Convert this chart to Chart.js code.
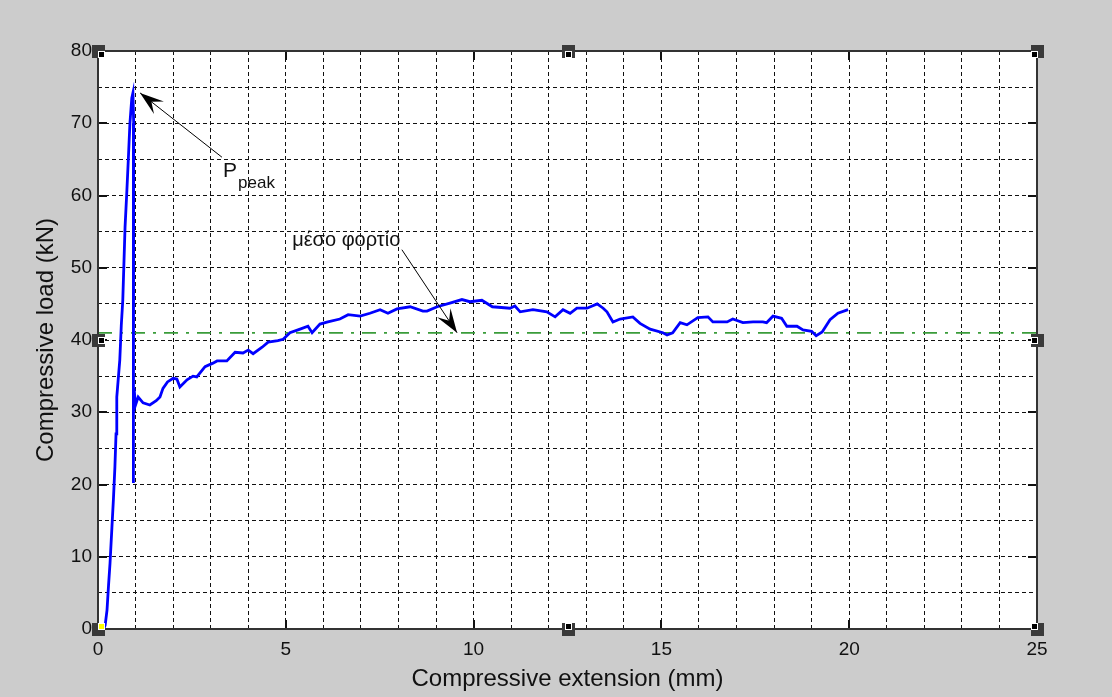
<!DOCTYPE html>
<html>
<head>
<meta charset="utf-8">
<script src="https://cdn.jsdelivr.net/npm/chart.js@4/dist/chart.umd.min.js"></script>
<style>
html,body{margin:0;padding:0;background:#cccccc;}
canvas{display:block;}
</style>
</head>
<body>
<canvas id="c" width="1112" height="697"></canvas>
<script>
// ---- data ----
const extension = [0.15,0.19,0.24,0.28,0.32,0.37,0.41,0.45,0.48,0.50,0.58,0.62,0.66,0.72,0.77,0.81,0.85,0.90,0.93,
  0.95,0.94,0.94,0.94,0.95,0.96,1.00,1.07,1.20,1.38,1.55,1.65,1.73,1.85,2.00,2.10,2.18,2.37,2.53,2.63,2.85,3.06,3.17,3.43,3.65,3.86,4.00,4.13,4.37,4.53,4.79,4.93,
  5.11,5.38,5.59,5.70,5.91,6.12,6.44,6.66,6.98,7.24,7.51,7.72,7.96,8.31,8.65,8.76,9.03,9.37,9.69,9.90,
  10.22,10.50,10.97,11.10,11.24,11.58,11.95,12.17,12.38,12.57,12.75,13.02,13.29,13.45,13.55,13.71,13.90,14.24,14.43,14.70,15.04,15.15,15.30,15.50,15.68,15.97,
  16.24,16.37,16.75,16.90,17.17,17.44,17.70,17.80,17.97,18.20,18.34,18.61,18.77,19.00,19.12,19.28,19.49,19.70,19.97];
const load = [0,0.5,2.6,6,9.1,14,17.9,22.4,27,32.1,37.2,42,45.5,55.6,60.8,65.3,70.0,73.5,74.2,
  70,50,30,20.2,30,33.3,31.0,32.1,31.3,31.0,31.6,32.1,33.3,34.2,34.7,34.6,33.5,34.5,35.0,34.9,36.3,36.8,37.1,37.1,38.3,38.2,38.6,38.1,39.0,39.7,39.9,40.1,
  41.0,41.5,41.9,41.0,42.2,42.5,42.9,43.5,43.3,43.7,44.2,43.7,44.3,44.6,44.0,44.0,44.6,45.1,45.6,45.3,
  45.5,44.6,44.4,44.7,43.9,44.2,43.9,43.2,44.2,43.7,44.4,44.4,45.0,44.4,43.9,42.5,42.9,43.2,42.3,41.5,41.0,40.7,41.0,42.4,42.1,43.1,
  43.2,42.5,42.5,42.9,42.4,42.5,42.5,42.4,43.3,43.0,41.9,41.9,41.4,41.2,40.6,41.1,42.8,43.7,44.2];
const meanLoad = 41;
const meanRange = [0, 25];
const xTickLabels = [0, 5, 10, 15, 20, 25];
const yTickLabels = [0, 10, 20, 30, 40, 50, 60, 70, 80];

// annotations (data coordinates)
const peakArrow = {from: [3.30, 65.3], to: [1.12, 74.2]};
const peakLabel = {at: [3.33, 62.6], main: 'P', sub: 'peak'};
const meanArrow = {from: [8.09, 52.5], to: [9.56, 41.0]};
const meanLabel = {at: [5.17, 53.0], text: 'μέσο φορτίο'};

const FONT = "'Liberation Sans', Arial, sans-serif";

function arrow(ctx, x1, y1, x2, y2) {
  ctx.save();
  ctx.strokeStyle = '#000'; ctx.fillStyle = '#000'; ctx.lineWidth = 1;
  ctx.beginPath(); ctx.moveTo(x1, y1); ctx.lineTo(x2, y2); ctx.stroke();
  const dx = x2 - x1, dy = y2 - y1, d = Math.hypot(dx, dy);
  const ux = dx / d, uy = dy / d, nx = -uy, ny = ux;
  const L = 24, W = 8;
  ctx.beginPath();
  ctx.moveTo(x2, y2);
  ctx.lineTo(x2 - L*ux + W*nx, y2 - L*uy + W*ny);
  ctx.lineTo(x2 - 0.6*L*ux, y2 - 0.6*L*uy);
  ctx.lineTo(x2 - L*ux - W*nx, y2 - L*uy - W*ny);
  ctx.closePath(); ctx.fill();
  ctx.restore();
}

const framePlugin = {
  id: 'frame',
  beforeDraw(chart) {
    const {ctx, chartArea: a} = chart;
    ctx.save();
    ctx.fillStyle = '#cccccc';
    ctx.fillRect(0, 0, chart.width, chart.height);
    ctx.fillStyle = '#ffffff';
    ctx.fillRect(a.left, a.top, a.right - a.left, a.bottom - a.top);
    ctx.restore();
  },
  afterDraw(chart) {
    const {ctx, chartArea: a, scales} = chart;
    const xs = scales.x, ys = scales.y;
    ctx.save();
    // inward tick marks
    ctx.strokeStyle = '#111'; ctx.lineWidth = 2;
    ctx.beginPath();
    xTickLabels.forEach(v => {
      const px = Math.round(xs.getPixelForValue(v));
      ctx.moveTo(px, a.bottom); ctx.lineTo(px, a.bottom - 9);
      ctx.moveTo(px, a.top); ctx.lineTo(px, a.top + 9);
    });
    yTickLabels.forEach(v => {
      const py = Math.round(ys.getPixelForValue(v));
      ctx.moveTo(a.left, py); ctx.lineTo(a.left + 9, py);
      ctx.moveTo(a.right, py); ctx.lineTo(a.right - 9, py);
    });
    ctx.stroke();
    // box
    ctx.strokeStyle = '#333'; ctx.lineWidth = 2;
    ctx.strokeRect(a.left, a.top, a.right - a.left, a.bottom - a.top);

    // annotations
    const P = p => [xs.getPixelForValue(p[0]), ys.getPixelForValue(p[1])];
    let f = P(peakArrow.from), t = P(peakArrow.to);
    arrow(ctx, f[0], f[1], t[0], t[1]);
    f = P(meanArrow.from); t = P(meanArrow.to);
    arrow(ctx, f[0], f[1], t[0], t[1]);

    ctx.fillStyle = '#111';
    ctx.textBaseline = 'alphabetic'; ctx.textAlign = 'left';
    let p = P(peakLabel.at);
    ctx.font = '21px ' + FONT;
    ctx.fillText(peakLabel.main, p[0], p[1]);
    const w = ctx.measureText(peakLabel.main).width;
    ctx.font = '17px ' + FONT;
    ctx.fillText(peakLabel.sub, p[0] + w + 1, p[1] + 11);
    p = P(meanLabel.at);
    ctx.font = '20px ' + FONT;
    ctx.fillText(meanLabel.text, p[0], p[1]);

    // selection handles
    const cx = (a.left + a.right) / 2, cy = (a.top + a.bottom) / 2;
    const handles = [[a.left,a.top,1,1],[cx,a.top,0,1],[a.right,a.top,-1,1],[a.left,cy,1,0],[a.right,cy,-1,0],
                     [a.left,a.bottom,1,-1],[cx,a.bottom,0,-1],[a.right,a.bottom,-1,-1]];
    handles.forEach((h, i) => {
      const [hx, hy, sx, sy] = h;
      ctx.fillStyle = '#3a3a3a';
      ctx.fillRect(Math.round(hx) - 6, Math.round(hy) - 6, 13, 13);
      const ix = Math.round(hx) - 2 + sx * 3, iy = Math.round(hy) - 2 + sy * 3;
      ctx.fillStyle = '#ffffff';
      ctx.fillRect(ix - 1, iy - 1, 7, 7);
      ctx.fillStyle = (i === 5) ? '#ffff00' : '#000000';
      ctx.fillRect(ix, iy, 5, 5);
    });
    ctx.restore();
  }
};

const curve = extension.map((x, i) => ({x: x, y: load[i]}));
const mean = meanRange.map(x => ({x: x, y: meanLoad}));

new Chart(document.getElementById('c'), {
  type: 'scatter',
  data: {
    datasets: [
      {data: mean, showLine: true, borderColor: '#3a9c3a', borderWidth: 1.8, borderDash: [14, 8, 3, 8], pointRadius: 0, order: 2},
      {data: curve, showLine: true, borderColor: '#0000ff', borderWidth: 2.8, pointRadius: 0, tension: 0, order: 1}
    ]
  },
  options: {
    responsive: false,
    animation: false,
    events: [],
    layout: {padding: {top: 51, right: 75, left: 0, bottom: 0}},
    plugins: {legend: {display: false}, tooltip: {enabled: false}},
    scales: {
      x: {
        type: 'linear', min: 0, max: 25,
        afterFit(s) { s.height = 68; },
        ticks: {
          stepSize: 1, autoSkip: false, maxRotation: 0, padding: 9,
          color: '#111', font: {family: FONT, size: 19},
          callback: v => xTickLabels.includes(v) ? String(v) : ''
        },
        grid: {color: '#111', lineWidth: 1, drawTicks: false, tickLength: 0},
        border: {display: false, dash: [4, 3]},
        title: {display: true, text: 'Compressive extension (mm)', color: '#111',
                font: {family: FONT, size: 24}, padding: {top: 0, bottom: 3}}
      },
      y: {
        type: 'linear', min: 0, max: 80,
        afterFit(s) { s.width = 98; },
        ticks: {
          stepSize: 5, autoSkip: false, padding: 6,
          color: '#111', font: {family: FONT, size: 19},
          callback: v => yTickLabels.includes(v) ? String(v) : ''
        },
        grid: {color: '#111', lineWidth: 1, drawTicks: false, tickLength: 0},
        border: {display: false, dash: [4, 3]},
        title: {display: true, text: 'Compressive load (kN)', color: '#111',
                font: {family: FONT, size: 24}, padding: {top: 32, bottom: 0}}
      }
    }
  },
  plugins: [framePlugin]
});
</script>
</body>
</html>
